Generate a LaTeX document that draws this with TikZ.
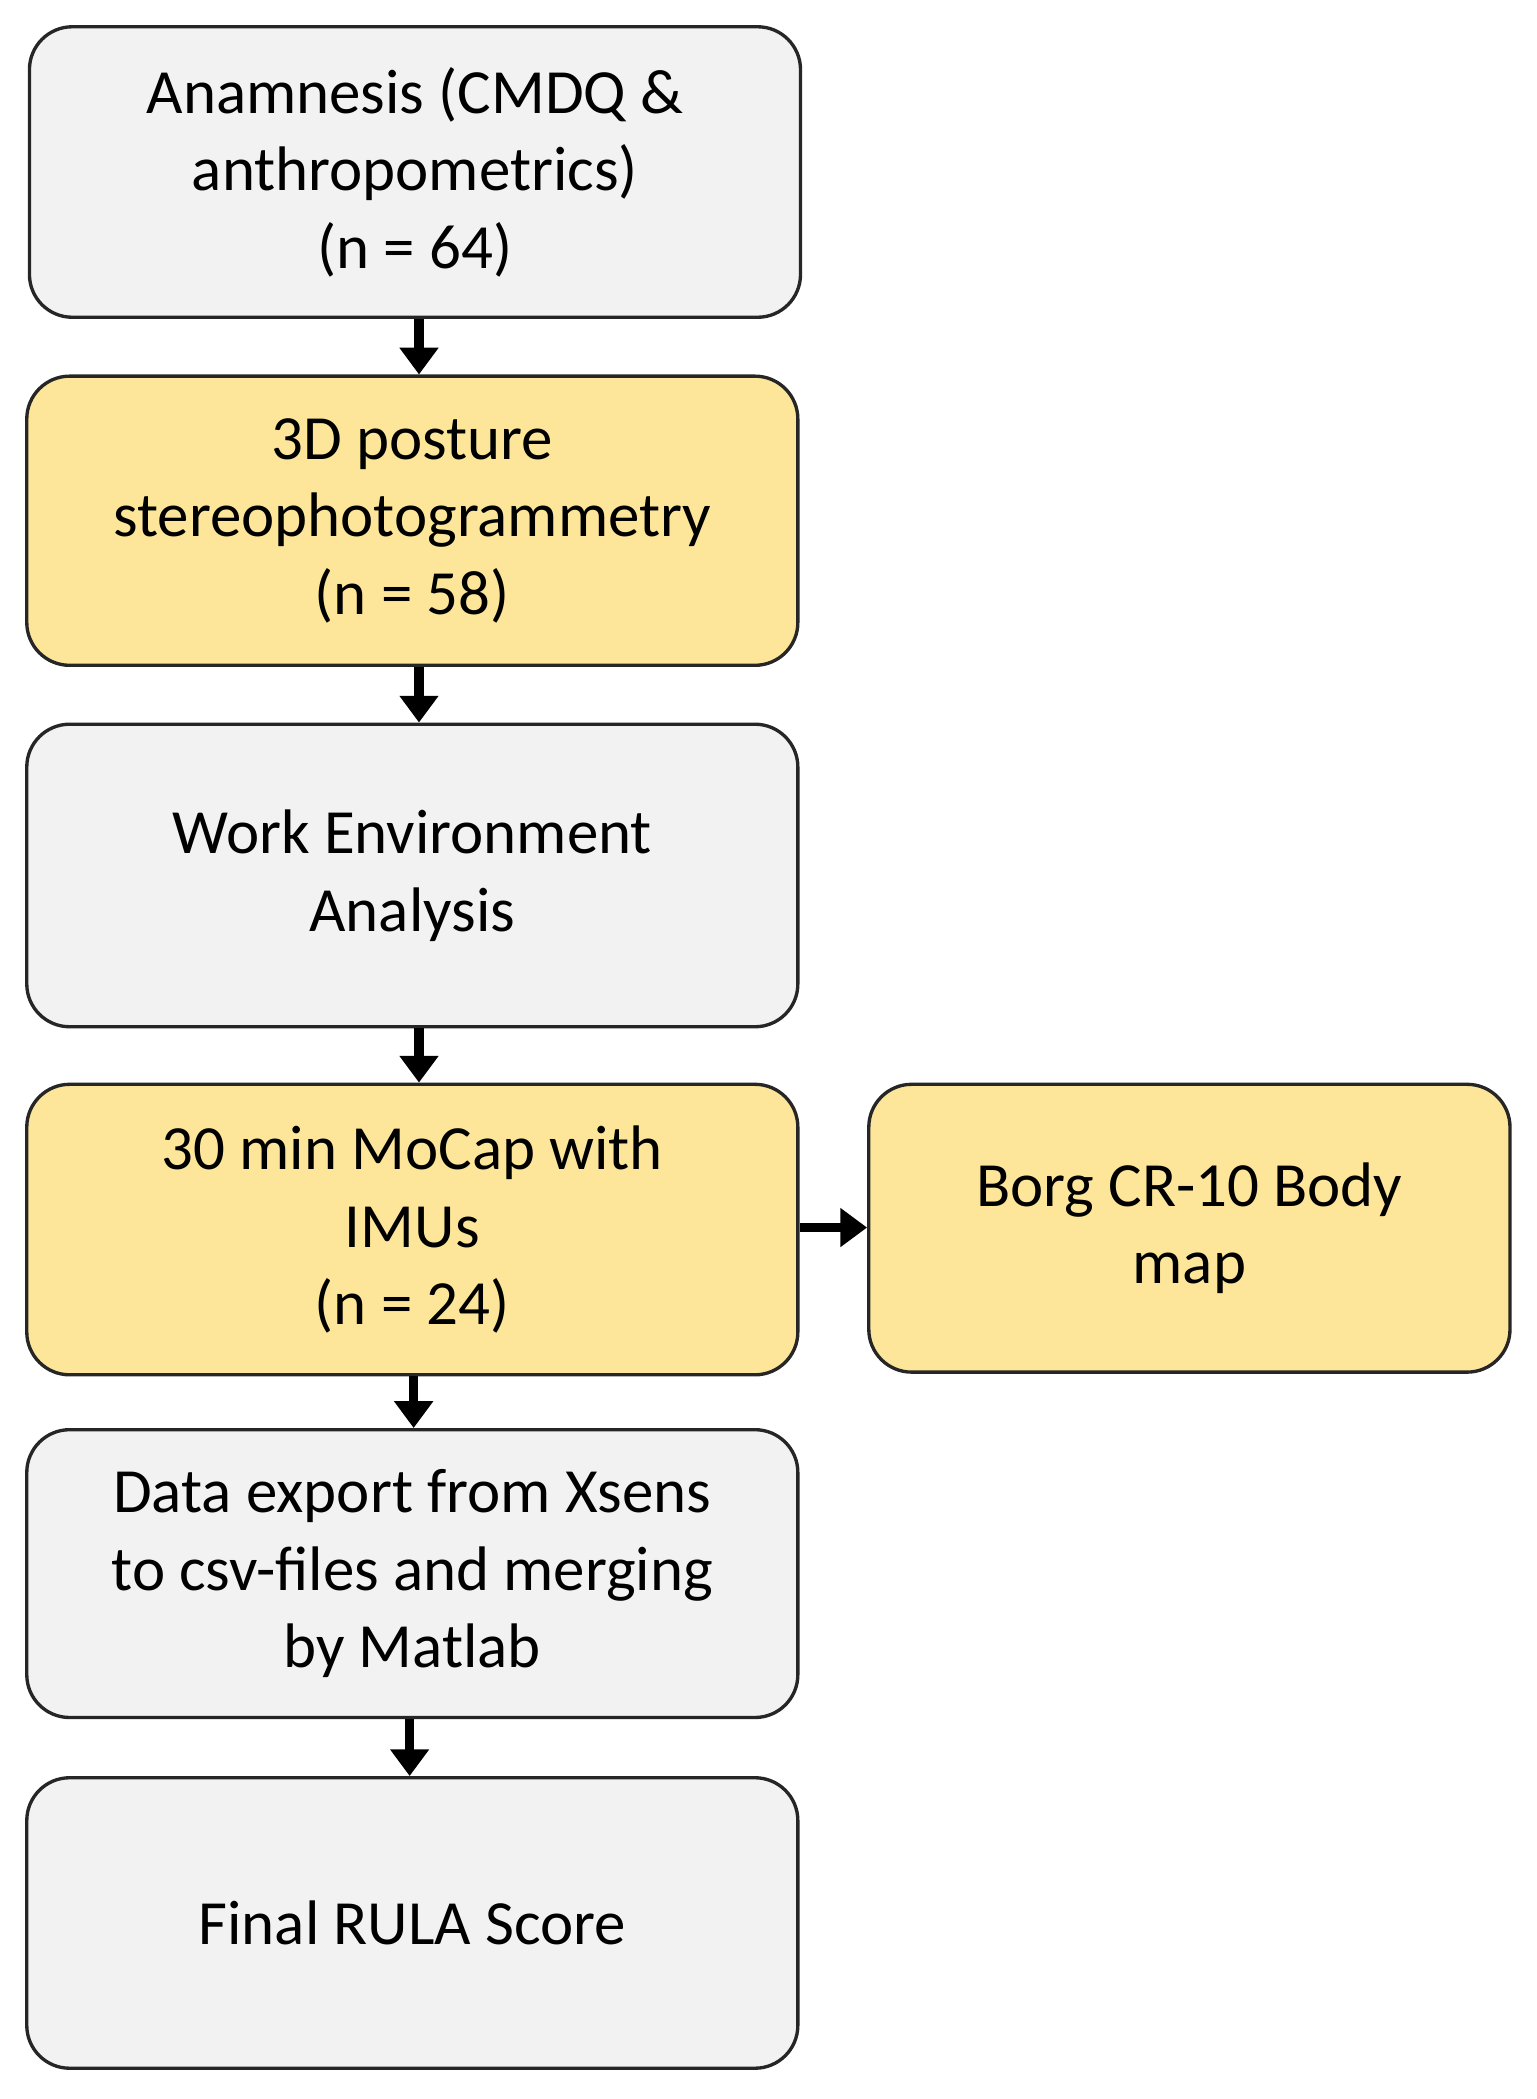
\documentclass[tikz,border=0pt]{standalone}
\usepackage{fontspec}
\setmainfont{Carlito}
\usetikzlibrary{arrows.meta}
\begin{document}
\begin{tikzpicture}[x=1pt,y=-1pt,
 box/.style={draw=black!85,line width=2.5pt,rounded corners=32pt,align=center,
   font=\fontsize{47}{58}\selectfont,text=black},
 gray/.style={box,fill=black!5},
 yel/.style={box,fill={rgb,255:red,253;green,230;blue,153}},
 arr/.style={line width=7pt,-{Triangle[length=20pt,width=28pt]}}]
\useasboundingbox (0,0) rectangle (1148,1568);
\node[gray,minimum width=576pt,minimum height=217pt] (a) at (310,128.5) {Anamnesis (CMDQ \&\\anthropometrics)\\(n = 64)};
\node[yel,minimum width=576pt,minimum height=216pt] (b) at (308,389) {3D posture\\stereophotogrammetry\\(n = 58)};
\node[gray,minimum width=576pt,minimum height=226pt] (c) at (308,654) {Work Environment\\Analysis};
\node[yel,minimum width=576pt,minimum height=217pt] (d) at (308,918.5) {30 min MoCap with\\IMUs\\(n = 24)};
\node[yel,minimum width=479pt,minimum height=215pt] (e) at (888.5,917.5) {Borg CR-10 Body\\map};
\node[gray,minimum width=576pt,minimum height=215pt] (f) at (308,1175.5) {Data export from Xsens\\to csv-files and merging\\by Matlab};
\node[gray,minimum width=576pt,minimum height=217pt] (g) at (308,1436.5) {Final RULA Score};
\draw[arr] (a.south -| 313,0) -- (b.north -| 313,0);
\draw[arr] (b.south -| 313,0) -- (c.north -| 313,0);
\draw[arr] (c.south -| 313,0) -- (d.north -| 313,0);
\draw[arr] (d.south -| 309,0) -- (f.north -| 309,0);
\draw[arr] (f.south -| 306,0) -- (g.north -| 306,0);
\draw[arr] (d.east |- 0,917) -- (e.west |- 0,917);
\end{tikzpicture}
\end{document}
